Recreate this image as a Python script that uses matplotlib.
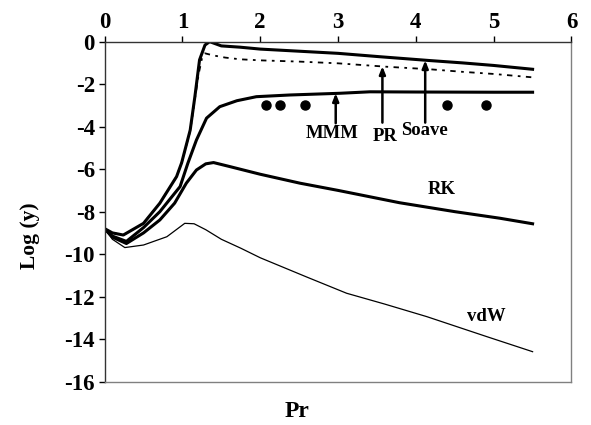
import matplotlib
matplotlib.use("Agg")
import matplotlib.pyplot as plt

plt.rcParams['font.family'] = ['Liberation Serif', 'DejaVu Serif']
plt.rcParams['font.weight'] = 'bold'
plt.rcParams['axes.unicode_minus'] = False

# Reduced pressure (Pr) grids and log(y) values for each equation of state
soave_x = [0, 0.1, 0.24, 0.5, 0.71, 0.925, 0.99, 1.10, 1.16, 1.22, 1.29, 1.35, 1.50,
           1.74, 2.0, 2.5, 3.0, 3.54, 4.18, 4.6, 5.0, 5.5]
soave_y = [-8.8, -9.0, -9.1, -8.55, -7.6, -6.35, -5.7, -4.16, -2.59, -0.86, -0.16, 0.0,
           -0.2, -0.26, -0.35, -0.45, -0.55, -0.71, -0.89, -1.0, -1.12, -1.3]

pr_x = [0, 0.1, 0.24, 0.5, 0.71, 0.925, 0.99, 1.10, 1.16, 1.21, 1.25, 1.29, 1.4, 1.55,
        1.74, 2.0, 2.51, 3.0, 3.62, 4.18, 4.6, 5.0, 5.5]
pr_y = [-8.8, -9.0, -9.1, -8.55, -7.6, -6.35, -5.7, -4.2, -2.7, -1.5, -0.8, -0.55, -0.65,
        -0.75, -0.83, -0.88, -0.94, -1.02, -1.18, -1.30, -1.42, -1.52, -1.68]

mmm_x = [0, 0.1, 0.28, 0.5, 0.71, 0.97, 1.07, 1.18, 1.31, 1.48, 1.70, 1.95, 2.38, 3.02,
         3.41, 4.0, 5.0, 5.5]
mmm_y = [-8.8, -9.15, -9.4, -8.75, -8.0, -6.82, -5.72, -4.63, -3.6, -3.06, -2.78, -2.59,
         -2.51, -2.43, -2.36, -2.37, -2.38, -2.38]

rk_x = [0, 0.1, 0.28, 0.5, 0.71, 0.9, 1.05, 1.18, 1.30, 1.40, 1.61, 2.0, 2.51, 3.0, 3.79,
        4.5, 5.08, 5.5]
rk_y = [-8.8, -9.2, -9.5, -9.0, -8.39, -7.6, -6.66, -6.04, -5.75, -5.69, -5.88, -6.24,
        -6.66, -7.0, -7.58, -8.0, -8.31, -8.57]

vdw_x = [0, 0.1, 0.26, 0.5, 0.8, 1.03, 1.15, 1.3, 1.5, 1.75, 2.0, 2.6, 3.11, 3.6,
         4.14, 4.91, 5.5]
vdw_y = [-8.8, -9.3, -9.69, -9.57, -9.18, -8.55, -8.57, -8.85, -9.3, -9.72, -10.17,
         -11.08, -11.84, -12.35, -12.94, -13.88, -14.59]

# Experimental points
exp_x = [2.07, 2.25, 2.57, 4.4, 4.9]
exp_y = [-3.0, -3.0, -3.0, -3.0, -3.0]

# Model labels with arrows: (text, arrow x, arrow tip y, arrow tail y, text x, text y)
arrow_labels = [
    ("MMM", 2.97, -2.43, -3.84, 2.92, -4.34),
    ("PR", 3.57, -1.16, -3.81, 3.60, -4.47),
    ("Soave", 4.12, -0.88, -3.81, 4.11, -4.16),
]
plain_labels = [("RK", 4.33, -6.98), ("vdW", 4.9, -12.94)]

x_ticks = [0, 1, 2, 3, 4, 5, 6]
y_ticks = [0, -2, -4, -6, -8, -10, -12, -14, -16]

fig = plt.figure(figsize=(5.91, 4.25), dpi=100)
ax = fig.add_axes([0.177, 0.102, 0.790, 0.800])

ax.plot(vdw_x, vdw_y, color='black', lw=0.9)
ax.plot(rk_x, rk_y, color='black', lw=2.2)
ax.plot(mmm_x, mmm_y, color='black', lw=2.2)
ax.plot(pr_x, pr_y, color='black', lw=1.3, linestyle=(0, (3, 3, 1.5, 3)))
ax.plot(soave_x, soave_y, color='black', lw=2.2)
ax.plot(exp_x, exp_y, 'o', color='black', markersize=6.5)

for text, ax_x, tip, tail, tx, ty in arrow_labels:
    ax.annotate('', xy=(ax_x, tip), xytext=(ax_x, tail),
                arrowprops=dict(arrowstyle='-|>,head_length=0.45,head_width=0.18',
                                color='black', lw=1.8, shrinkA=0, shrinkB=0))
    ax.text(tx, ty, text, ha='center', va='center', fontsize=13.5, fontweight='bold')

for text, tx, ty in plain_labels:
    ax.text(tx, ty, text, ha='center', va='center', fontsize=13.5, fontweight='bold')

ax.set_xlim(0, 6)
ax.set_ylim(-16, 0)
ax.set_xticks(x_ticks)
ax.set_yticks(y_ticks)
ax.xaxis.tick_top()
ax.xaxis.set_label_position('bottom')
ax.tick_params(axis='both', direction='out', length=4, width=1, labelsize=16.5,
               colors='black', pad=3)
ax.tick_params(axis='x', top=True, bottom=False, pad=2)
ax.tick_params(axis='y', left=True, right=False)
for lab in ax.get_xticklabels() + ax.get_yticklabels():
    lab.set_fontweight('bold')

for side in ['left', 'top']:
    ax.spines[side].set_color('#333333')
    ax.spines[side].set_linewidth(1.0)
for side in ['right', 'bottom']:
    ax.spines[side].set_color('#808080')
    ax.spines[side].set_linewidth(1.0)

ax.set_xlabel('Pr', fontsize=17, fontweight='bold')
ax.set_ylabel('Log (y)', fontsize=15.5, fontweight='bold')
ax.xaxis.set_label_coords(0.412, -0.058)
ax.yaxis.set_label_coords(-0.139, 0.43)

fig.savefig('out.png', dpi=100)
